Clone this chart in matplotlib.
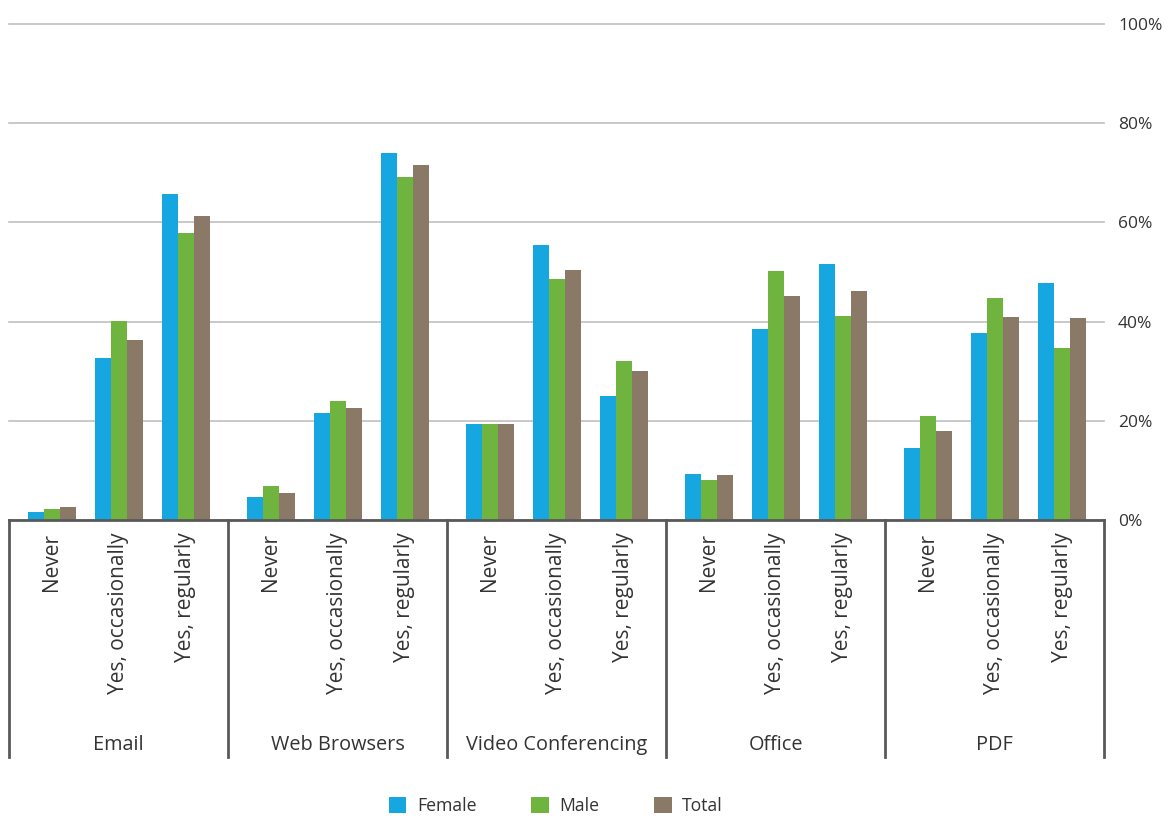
import numpy as np
import matplotlib
matplotlib.use("Agg")
import matplotlib.pyplot as plt
from matplotlib.patches import Patch

# data (percent)
groups = ["Email", "Web Browsers", "Video Conferencing", "Office", "PDF"]
answers = ["Never", "Yes, occasionally", "Yes, regularly"]
series = ["Female", "Male", "Total"]

female = [1.6, 32.6, 65.8,  4.6, 21.5, 74.1,  19.3, 55.4, 25.0,  9.3, 38.5, 51.7,  14.5, 37.7, 47.7]
male   = [2.2, 40.1, 57.8,  6.8, 24.0, 69.1,  19.3, 48.7, 32.0,  8.1, 50.3, 41.1,  20.9, 44.7, 34.6]
total  = [2.6, 36.4, 61.4,  5.4, 22.6, 71.5,  19.3, 50.5, 30.0,  9.1, 45.1, 46.1,  17.9, 40.9, 40.7]

colors = ["#17a7e0", "#6eb43f", "#8a7966"]
text_col = "#333333"

plt.rcParams["font.family"] = ["Open Sans", "DejaVu Sans"]

fig = plt.figure(figsize=(11.65, 8.16), dpi=100)
ax = fig.add_axes([0.0077, 0.3627, 0.9400, 0.6078])

# category positions inside each group (group width = 1)
offsets = np.array([0.196, 0.502, 0.808])
xs = np.concatenate([g + offsets for g in range(len(groups))])
bw = 0.073

for k, (vals, col) in enumerate(zip([female, male, total], colors)):
    ax.bar(xs + (k - 1) * bw, vals, width=bw, color=col, zorder=3)

ax.set_xlim(0, len(groups))
ax.set_ylim(0, 100)

for s in ["top", "left", "right"]:
    ax.spines[s].set_visible(False)
ax.spines["bottom"].set_color("#595959")
ax.spines["bottom"].set_linewidth(2)
ax.spines["bottom"].set_zorder(4)

ax.yaxis.tick_right()
ax.set_yticks(np.arange(0, 101, 20))
ax.set_yticklabels([f"{v}%" for v in range(0, 101, 20)])
ax.tick_params(axis="y", length=0, pad=10, labelsize=12.5, labelcolor=text_col)
ax.grid(axis="y", color="#c0c0c0", lw=1.2, zorder=0)
for gl in ax.get_ygridlines():
    gl.set_clip_on(False)

ax.set_xticks(xs)
ax.set_xticklabels(answers * len(groups), rotation=90, va="top", ha="center")
ax.tick_params(axis="x", length=0, pad=9, labelsize=15, labelcolor=text_col)

# group separators and group names below the axis
trans = ax.get_xaxis_transform()
for g in range(len(groups) + 1):
    ax.plot([g, g], [0, -0.478], transform=trans, color="#595959", lw=2, clip_on=False)
for g, name in enumerate(groups):
    ax.text(g + 0.5, -0.454, name, transform=trans, ha="center", va="center",
            fontsize=14.3, color=text_col)

handles = [Patch(facecolor=c, edgecolor="none") for c in colors]
fig.legend(handles, series, loc="center", bbox_to_anchor=(0.477, 0.012), ncol=3,
           frameon=False, fontsize=12.7, handlelength=1.0, handleheight=1.0,
           handletextpad=0.6, columnspacing=3.1, labelcolor=text_col)

fig.savefig("out.png", dpi=100)
